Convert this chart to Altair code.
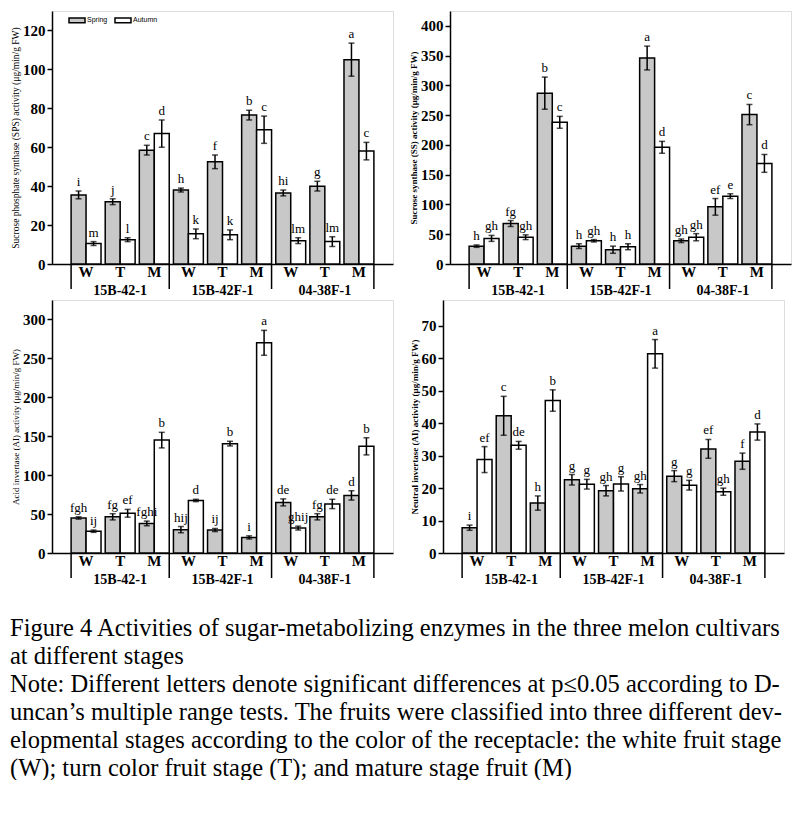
import altair as alt
import pandas as pd

SERIF = "Liberation Serif"

cultivars = ["15B-42-1", "15B-42F-1", "04-38F-1"]
stages = ["W", "T", "M"]
seasons = ["Spring", "Autumn"]

# Panel 1: sucrose phosphate synthase (SPS)
sps_spring = [35.5, 32.0, 58.5, 38.0, 52.5, 76.5, 36.5, 40.0, 105.0]
sps_spring_err = [2.0, 1.5, 2.5, 1.0, 3.5, 2.5, 1.5, 2.5, 8.5]
sps_autumn = [10.5, 12.5, 67.0, 15.5, 15.0, 69.0, 12.0, 11.5, 58.0]
sps_autumn_err = [1.0, 1.0, 7.0, 2.5, 2.5, 7.0, 1.5, 2.5, 4.5]
sps_spring_let = ["i", "j", "c", "h", "f", "b", "hi", "g", "a"]
sps_autumn_let = ["m", "l", "d", "k", "k", "c", "lm", "lm", "c"]

# Panel 2: sucrose synthase (SS)
ss_spring = [30, 68, 287, 30, 24, 346, 39, 96, 251]
ss_spring_err = [2, 5, 27, 4, 6, 20, 3, 14, 17]
ss_autumn = [43, 45, 238, 39, 29, 196, 45, 114, 169]
ss_autumn_err = [5, 4, 10, 2, 5, 10, 6, 4, 15]
ss_spring_let = ["h", "fg", "b", "h", "h", "a", "gh", "ef", "c"]
ss_autumn_let = ["gh", "gh", "c", "gh", "h", "d", "gh", "e", "d"]

# Panel 3: acid invertase (AI)
ai_spring = [45, 46.5, 38, 30, 29.5, 20, 65, 46.5, 74]
ai_spring_err = [1.5, 4, 3, 4, 2, 2, 4.5, 4, 6]
ai_autumn = [28, 51, 145, 67.5, 140.5, 270, 32, 63, 137]
ai_autumn_err = [1.5, 5, 10, 1.5, 3, 16, 2.5, 6, 11]
ai_spring_let = ["fgh", "fg", "fghi", "hij", "ij", "i", "de", "fg", "d"]
ai_autumn_let = ["ij", "ef", "b", "d", "b", "a", "ghij", "de", "b"]

# Panel 4: neutral invertase
ni_spring = [7.8, 42.3, 15.4, 22.6, 19.2, 19.8, 23.7, 32.1, 28.3]
ni_spring_err = [0.8, 6.0, 2.2, 1.6, 1.6, 1.3, 1.7, 2.9, 2.5]
ni_autumn = [28.8, 33.2, 47.0, 21.2, 21.3, 61.4, 20.9, 18.9, 37.3]
ni_autumn_err = [4.0, 1.2, 3.3, 1.5, 2.2, 4.4, 1.5, 1.1, 2.5]
ni_spring_let = ["i", "c", "h", "g", "gh", "gh", "g", "ef", "f"]
ni_autumn_let = ["ef", "de", "b", "g", "g", "a", "g", "gh", "d"]

caption_lines = [
    "Figure 4 Activities of sugar-metabolizing enzymes in the three melon cultivars",
    "at different stages",
    "Note: Different letters denote significant differences at p\u22640.05 according to D-",
    "uncan\u2019s multiple range tests. The fruits were classified into three different dev-",
    "elopmental stages according to the color of the receptacle: the white fruit stage",
    "(W); turn color fruit stage (T); and mature stage fruit (M)",
]

W, H = 341, 253
keys = [c + "|" + s for c in cultivars for s in stages]


def panel(sp, sp_e, au, au_e, sp_l, au_l, ymax, yticks, title, bold,
          title_size, show_legend):
    rows = []
    for i, k in enumerate(keys):
        for season, v, e, l in (("Spring", sp[i], sp_e[i], sp_l[i]),
                                ("Autumn", au[i], au_e[i], au_l[i])):
            rows.append(dict(key=k, season=season, value=v,
                             lo=v - e, hi=v + e, letter=l))
    df = pd.DataFrame(rows)

    xscale = alt.Scale(domain=keys, paddingInner=0.123, paddingOuter=0.56)
    xaxis = alt.Axis(title=None, labelExpr="split(datum.label, '|')[1]",
                     labelAngle=0, ticks=False, labelFont=SERIF,
                     labelFontSize=15, labelFontWeight="bold",
                     labelColor="black", labelPadding=0,
                     domainColor="black", domainWidth=1.5)
    x = alt.X("key:N", scale=xscale, axis=xaxis, sort=keys)
    xo = alt.XOffset("season:N", sort=seasons,
                     scale=alt.Scale(domain=seasons, paddingInner=0, paddingOuter=0))
    yscale = alt.Scale(domain=[0, ymax], nice=False, zero=True)
    yaxis = alt.Axis(values=yticks, title=title, titleFont=SERIF,
                     titleFontSize=title_size,
                     titleFontWeight="bold" if bold else "normal",
                     titleColor="black", titlePadding=2,
                     labelFont=SERIF, labelFontSize=15, labelFontWeight="bold",
                     labelColor="black", labelPadding=2, tickSize=5,
                     tickWidth=1.5, tickColor="black", domainColor="black",
                     domainWidth=1.5, grid=False, labelOverlap=False)
    if show_legend:
        legend = alt.Legend(orient="none", legendX=16, legendY=0,
                            direction="horizontal", title=None,
                            symbolType="M-1,-0.3L1,-0.3L1,0.3L-1,0.3Z",
                            symbolSize=256, symbolStrokeColor="black",
                            symbolStrokeWidth=1.5, labelFont="Liberation Sans",
                            labelFontSize=7, labelColor="black",
                            labelOffset=1, columnPadding=4)
    else:
        legend = None
    fill = alt.Fill("season:N", sort=seasons,
                    scale=alt.Scale(domain=seasons, range=["#c8c8c8", "white"]),
                    legend=legend)

    base = alt.Chart(df)
    bars = base.mark_bar(stroke="black", strokeWidth=1.5).encode(
        x=x, xOffset=xo, y=alt.Y("value:Q", scale=yscale, axis=yaxis), fill=fill)
    err = base.mark_rule(color="black", strokeWidth=1.5).encode(
        x=x, xOffset=xo, y=alt.Y("lo:Q", scale=yscale, axis=yaxis), y2="hi:Q")
    caps = base.transform_fold(["lo", "hi"], as_=["end", "yv"]).mark_tick(
        color="black", thickness=1.5, size=6).encode(
        x=x, xOffset=xo, y=alt.Y("yv:Q", scale=yscale, axis=yaxis))
    letters = base.mark_text(font=SERIF, fontSize=13, baseline="bottom",
                             dy=-2, color="black").encode(
        x=x, xOffset=xo, y=alt.Y("hi:Q", scale=yscale, axis=yaxis),
        text="letter:N")

    first_df = pd.DataFrame({"key": [cultivars[0] + "|W"]})
    last_df = pd.DataFrame({"key": [c + "|M" for c in cultivars]})
    sep1 = alt.Chart(first_df).mark_rule(color="black", strokeWidth=1.5).encode(
        x=alt.X("key:N", scale=xscale, axis=xaxis, bandPosition=0, sort=keys),
        y=alt.value(H), y2=alt.value(H + 25))
    sep2 = alt.Chart(last_df).mark_rule(color="black", strokeWidth=1.5).encode(
        x=alt.X("key:N", scale=xscale, axis=xaxis, bandPosition=1, sort=keys),
        y=alt.value(H), y2=alt.value(H + 25))
    grp_df = pd.DataFrame({"key": [c + "|T" for c in cultivars], "label": cultivars})
    grp = alt.Chart(grp_df).mark_text(font=SERIF, fontSize=14, fontWeight="bold",
                                      baseline="middle", color="black").encode(
        x=alt.X("key:N", scale=xscale, axis=xaxis, sort=keys),
        y=alt.value(H + 27), text="label:N")

    return alt.layer(bars, err, caps, letters, sep1, sep2, grp).properties(
        width=W, height=H)


p1 = panel(sps_spring, sps_spring_err, sps_autumn, sps_autumn_err,
           sps_spring_let, sps_autumn_let, 130, list(range(0, 121, 20)),
           "Sucrose phosphate synthase (SPS) activity (\u03bcg/min/g FW)",
           False, 9.5, True)
p2 = panel(ss_spring, ss_spring_err, ss_autumn, ss_autumn_err,
           ss_spring_let, ss_autumn_let, 425, list(range(0, 401, 50)),
           "Sucrose synthase (SS) activity (\u03bcg/min/g FW)", True, 9, False)
p3 = panel(ai_spring, ai_spring_err, ai_autumn, ai_autumn_err,
           ai_spring_let, ai_autumn_let, 325, list(range(0, 301, 50)),
           "Acid invertase (AI) activity (\u03bcg/min/g FW)", False, 9, False)
p4 = panel(ni_spring, ni_spring_err, ni_autumn, ni_autumn_err,
           ni_spring_let, ni_autumn_let, 78, list(range(0, 71, 10)),
           "Neutral invertase (AI) activity (\u03bcg/min/g FW)", True, 9, False)

row1 = alt.hconcat(p1, p2, spacing=15).resolve_scale(fill="independent").resolve_legend(fill="independent")
row2 = alt.hconcat(p3, p4, spacing=15).resolve_scale(fill="independent").resolve_legend(fill="independent")

chart = alt.vconcat(row1, row2, spacing=0).resolve_scale(
    fill="independent").resolve_legend(fill="independent").properties(
    title=alt.TitleParams(text=caption_lines, orient="bottom", anchor="start",
                          font=SERIF, fontSize=24.5, fontWeight="normal",
                          color="black", lineHeight=28, offset=29),
    padding={"left": 2, "top": 2, "right": 0, "bottom": 0},
).configure_view(stroke=None).configure(background="white")

chart.save("out.html", embed_options={"renderer": "svg", "actions": False})
